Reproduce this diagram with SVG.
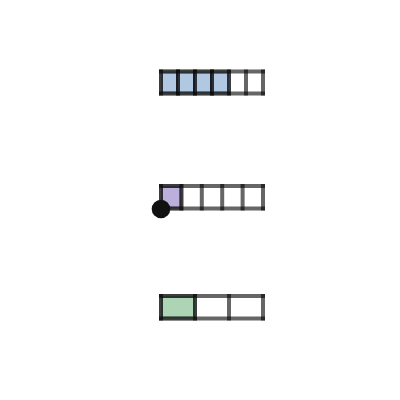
<svg xmlns="http://www.w3.org/2000/svg" width="400" height="400" viewBox="0 0 400 400">
<style>
.grid line{stroke:#000;stroke-opacity:0.6;stroke-width:4;stroke-linecap:square}
.cell{stroke:#000;stroke-opacity:0.4;stroke-width:4}
.blue{fill:#b0c8e2}
.purple{fill:#bbb0dc}
.green{fill:#aed4b6}
</style>
<rect width="400" height="400" fill="#fff"/>
<g id="bar-top">
<rect class="cell blue" x="161" y="71.5" width="17" height="22"/>
<rect class="cell blue" x="178" y="71.5" width="17" height="22"/>
<rect class="cell blue" x="195" y="71.5" width="17" height="22"/>
<rect class="cell blue" x="212" y="71.5" width="17" height="22"/>
<g class="grid">
<line x1="161" y1="71.5" x2="263" y2="71.5"/>
<line x1="161" y1="93.5" x2="263" y2="93.5"/>
<line x1="161" y1="71.5" x2="161" y2="93.5"/>
<line x1="178" y1="71.5" x2="178" y2="93.5"/>
<line x1="195" y1="71.5" x2="195" y2="93.5"/>
<line x1="212" y1="71.5" x2="212" y2="93.5"/>
<line x1="229" y1="71.5" x2="229" y2="93.5"/>
<line x1="246" y1="71.5" x2="246" y2="93.5"/>
<line x1="263" y1="71.5" x2="263" y2="93.5"/>
</g>
</g>
<g id="bar-middle">
<rect class="cell purple" x="161" y="186" width="20.4" height="22.5"/>
<g class="grid">
<line x1="161" y1="186" x2="263" y2="186"/>
<line x1="161" y1="208.5" x2="263" y2="208.5"/>
<line x1="161" y1="186" x2="161" y2="208.5"/>
<line x1="181.4" y1="186" x2="181.4" y2="208.5"/>
<line x1="201.8" y1="186" x2="201.8" y2="208.5"/>
<line x1="222.2" y1="186" x2="222.2" y2="208.5"/>
<line x1="242.6" y1="186" x2="242.6" y2="208.5"/>
<line x1="263" y1="186" x2="263" y2="208.5"/>
</g>
<circle id="dot" cx="161" cy="209" r="9.3" fill="#111"/>
</g>
<g id="bar-bottom">
<rect class="cell green" x="161" y="296" width="34" height="22.5"/>
<g class="grid">
<line x1="161" y1="296" x2="263" y2="296"/>
<line x1="161" y1="318.5" x2="263" y2="318.5"/>
<line x1="161" y1="296" x2="161" y2="318.5"/>
<line x1="195" y1="296" x2="195" y2="318.5"/>
<line x1="229" y1="296" x2="229" y2="318.5"/>
<line x1="263" y1="296" x2="263" y2="318.5"/>
</g>
</g>
<g id="connectors"/>
</svg>
